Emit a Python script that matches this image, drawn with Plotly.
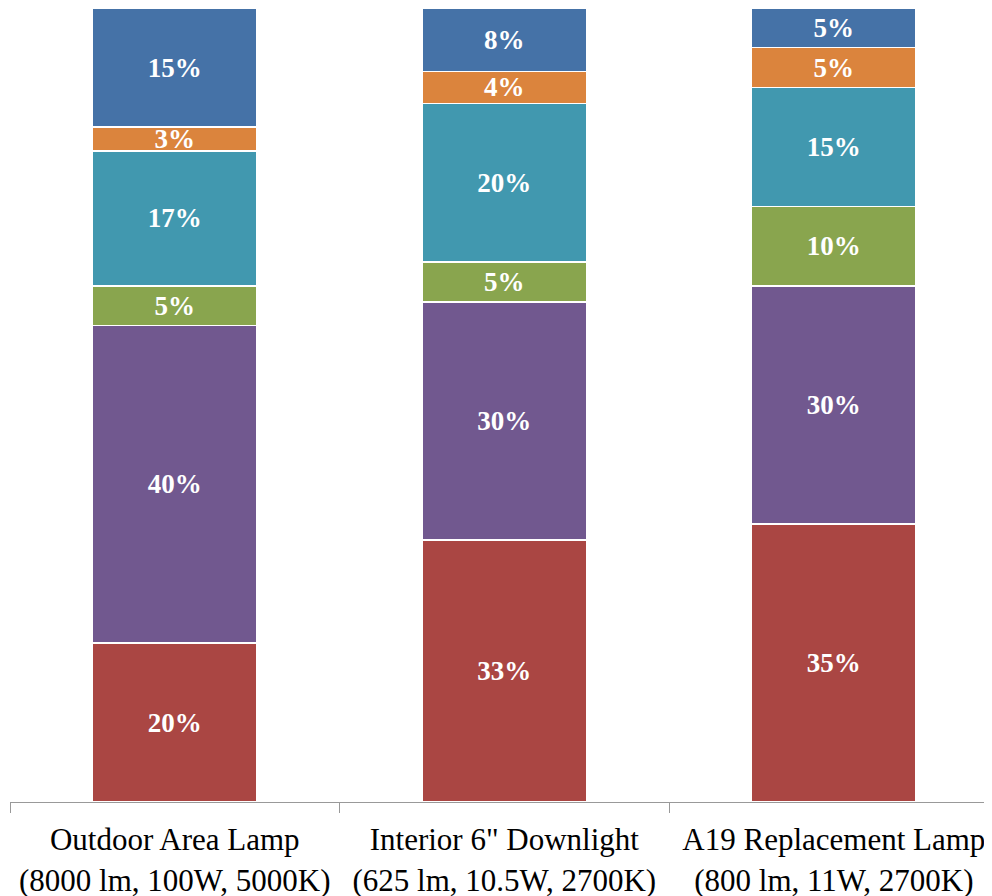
import plotly.graph_objects as go

categories = [
    "Outdoor Area Lamp<br>(8000 lm, 100W, 5000K)",
    "Interior 6\" Downlight<br>(625 lm, 10.5W, 2700K)",
    "A19 Replacement Lamp<br>(800 lm, 11W, 2700K)",
]
series_names = ["Segment 1", "Segment 2", "Segment 3", "Segment 4", "Segment 5", "Segment 6"]
seg1 = [20, 33, 35]
seg2 = [40, 30, 30]
seg3 = [5, 5, 10]
seg4 = [17, 20, 15]
seg5 = [3, 4, 5]
seg6 = [15, 8, 5]
colors = ["#AA4643", "#71588F", "#89A54E", "#4198AF", "#DB843D", "#4572A7"]

SERIF = "Liberation Serif, Times New Roman, serif"

fig = go.Figure()
for name, vals, col in zip(series_names, [seg1, seg2, seg3, seg4, seg5, seg6], colors):
    fig.add_trace(go.Bar(
        x=categories, y=vals, name=name,
        marker=dict(color=col, line=dict(color="white", width=1.5)),
        text=[f"{v}%" for v in vals],
        textposition="inside", insidetextanchor="middle",
        constraintext="none",
        textfont=dict(family=SERIF, size=27, color="white", weight="bold"),
        hoverinfo="skip",
    ))

# page body has an 8px default margin, so the figure is sized to fit the window
fig.update_layout(
    barmode="stack", bargap=0.5,
    width=984, height=888,
    margin=dict(l=2, r=0, t=0, b=94, autoexpand=False),
    paper_bgcolor="white", plot_bgcolor="white",
    showlegend=False,
    font=dict(family=SERIF, color="black"),
)
fig.update_xaxes(
    range=[-0.5, 2.48], showline=True, linecolor="#999999", linewidth=1,
    ticks="outside", tickson="boundaries", ticklen=10, tickcolor="#999999",
    tickfont=dict(family=SERIF, size=31, color="black"),
    ticklabelstandoff=10,
    showgrid=False, automargin=False,
)
fig.update_yaxes(range=[0, 100], visible=False, automargin=False)

fig.write_html("out.html")
